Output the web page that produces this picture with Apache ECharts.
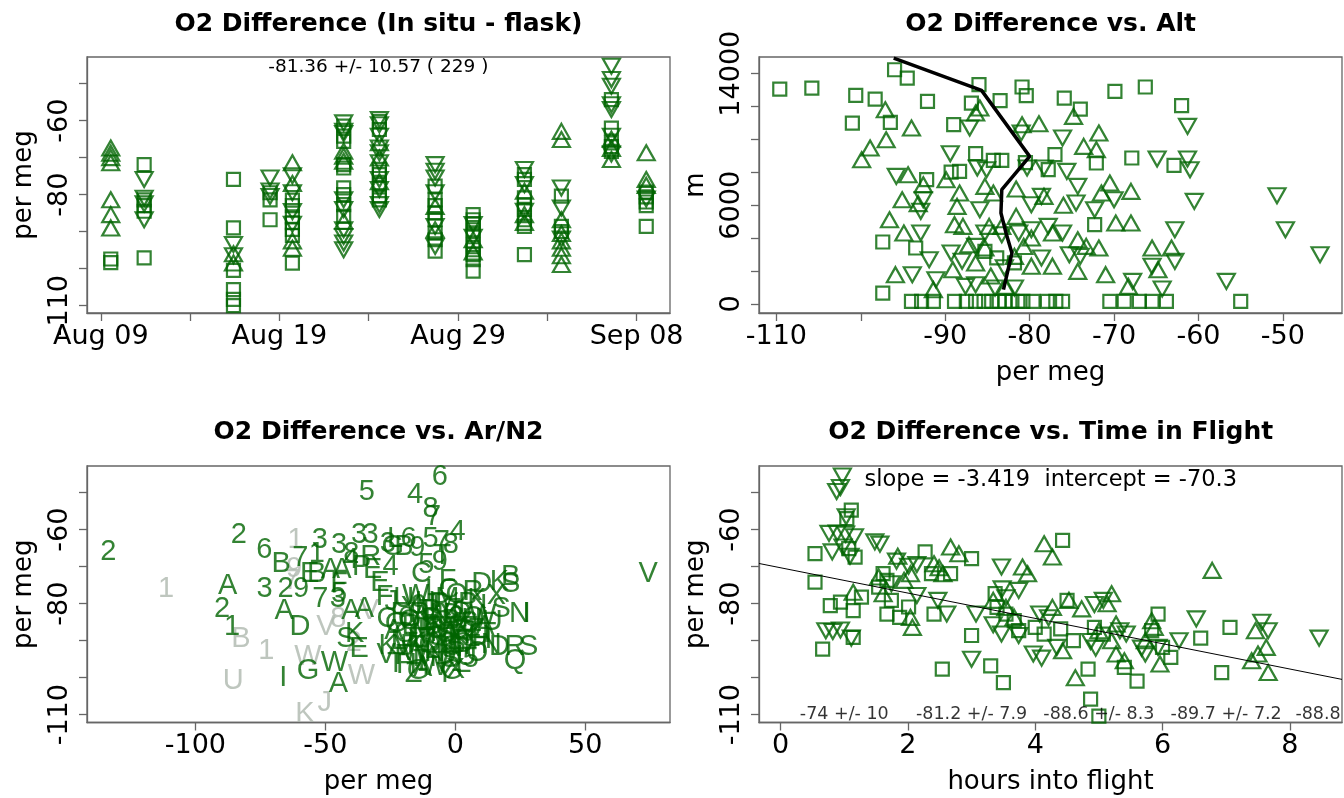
<!DOCTYPE html>
<html>
<head>
<meta charset="utf-8">
<title>O2 Difference</title>
<script src="https://cdn.jsdelivr.net/npm/echarts@6/dist/echarts.min.js"></script>
<style>
html,body{margin:0;padding:0;background:#fff;}
#main{width:1344px;height:798px;}
</style>
</head>
<body>
<div id="main"></div>
<script>
var green = '#006400', gray = '#aeb8ae', FONT = 'DejaVu Sans';

// panel 1: flights (days after Aug 09), values per flight by marker type
var p1Days = [0.56, 2.43, 7.43, 9.48, 10.73, 13.6, 15.6, 18.72, 20.85, 23.72, 25.79, 28.59, 30.54];
var p1Sq = [
  [-97.4, -98.4],
  [-71.9, -81.4, -83, -84.5, -97.1],
  [-75.9, -89, -100.5, -105.7, -108.3, -110],
  [-79.5, -81.4, -86.8],
  [-81.5, -83, -86, -87.6, -89.4, -91, -98.5],
  [-61.5, -64.2, -65.6, -71.9, -72.8, -78.2, -80, -82.7, -85.9],
  [-60.2, -62.4, -73.2, -74.6, -77.3, -80.4, -81.4],
  [-77.7, -81.4, -83, -85, -86.8, -90.4, -92.2, -95.3],
  [-85.4, -86.8, -88, -89.5, -90.8, -93.5, -94.9, -96.2, -97.6, -100.7],
  [-74.6, -75.9, -80.9, -82.7, -84, -86.8, -88.6, -96.2],
  [-80.4, -88.6, -90],
  [-54.3, -62, -66, -67, -68.3],
  [-79.3, -80.6, -82, -83, -88.6]
];
var p1Up = [
  [-67.4, -68.8, -70, -71.4, -81.4, -85.4, -89],
  [],
  [-96, -98.5],
  [],
  [-71.4, -77, -92.5, -94.5],
  [-68.3, -69.6, -71, -87.2],
  [-66, -70.1, -76.5],
  [-83.2, -89.5],
  [-92.2, -95.5],
  [-79.1, -85.4, -87.5],
  [-62.9, -65.1, -86.8, -90.5, -92.5, -94.5, -96.5, -98.9],
  [-65, -67.5, -70.5],
  [-68.7, -75.9, -77.5]
];
var p1Dn = [
  [],
  [-75.9, -81, -82.5, -86.8],
  [-93.5, -96.5],
  [-75.5, -79, -80.5],
  [-74.9, -79.5, -84.6, -88],
  [-60.6, -62.9, -63.5, -81.4, -84, -89.5, -91.3, -93.1, -94.9],
  [-59.7, -61.1, -64.2, -67.4, -68.7, -71.4, -75.9, -78.6, -82.7, -84],
  [-71.9, -73.7, -75.5, -79.5, -88.6, -94],
  [-88.1, -91.5],
  [-73.2, -77.3, -84.5],
  [-78.2, -83.6, -92],
  [-45.3, -48.9, -50.7, -55.7, -57, -64.2, -69],
  [-81.2]
];
var p1Note = '-81.36 +/- 10.57 ( 229 )';
var p1DayLabels = {0: 'Aug 09', 10: 'Aug 19', 20: 'Aug 29', 30: 'Sep 08'};

// panel 2: [per meg, altitude m]
var p2Sq = [[-96,14241],[-94.5,13736],[-109.6,13068],[-105.8,13129],[-100.6,12683],[-98.3,12460],[-101,11001],[-96.5,11042],
  [-92.1,12318],[-89,10900],[-86.9,12217],[-86,13331],[-83.5,12359],[-80.9,13190],[-80.4,12663],[-75.9,12521],[-74,11852],
  [-69.9,12926],[-66.3,13190],[-62,12055],[-67.9,8874],[-72.1,8570],[-62.9,8428],[-86.4,9137],[-84.3,8732],[-83.3,8732],
  [-77,9077],[-77.8,8165],[-88.3,8063],[-89.3,8020],[-92.2,7556],[-97.4,3768],[-93.5,3403],[-72.3,4822],[-85.3,3200],
  [-97.4,667],[-55,160],[-81.8,2500],[-83.9,2800],[-80.5,8600],
  [-94,160],[-92.8,160],[-91.4,160],[-88.9,160],[-87.5,160],[-86.4,160],[-85.4,160],[-84.5,160],[-83.6,160],[-82.9,160],
  [-82.1,160],[-81.4,160],[-80.8,160],[-79.6,160],[-77.9,160],[-76.9,160],[-76.1,160],[-70.5,160],[-68.8,160],[-67,160],
  [-65.5,160],[-63.8,160]];
var p2Up = [[-97.1,11812],[-94,10697],[-97,9987],[-98.9,9480],[-99.9,8772],[-85.9,11913],[-86.4,11609],[-80.9,10900],
  [-78.9,10961],[-74.8,11406],[-71.8,10393],[-73.6,9582],[-72.1,9380],[-94.4,7860],[-92.6,7252],[-89.9,7556],[-88.3,6745],
  [-85.3,7150],[-84.3,6745],[-81.6,6988],[-78.3,6542],[-70.5,7353],[-68,6847],[-71.5,6745],[-95.1,6340],[-96.6,5124],
  [-94.9,4314],[-88.6,5936],[-88.9,4822],[-87.9,4720],[-84.8,4720],[-83.3,4720],[-81.6,5327],[-79.8,4011],[-77.3,4314],
  [-74.3,3909],[-73.3,3504],[-71.8,3403],[-69.8,4923],[-68,4923],[-65.5,3403],[-63.2,3403],[-95.9,1783],[-89.1,2087],
  [-86.4,2492],[-85.3,3403],[-81.8,2897],[-79.8,2300],[-77.3,2300],[-74.3,1985],[-71,1783],[-64.8,2087],[-68.3,1073],
  [-82.8,1073],[-91.4,871],[-93.2,6100],[-87.2,3600],[-84.6,1700],[-76,6000],[-80.7,3500]];
var p2Dn = [[-87.1,10697],[-81,10393],[-76.1,10090],[-61.3,10799],[-61.3,8813],[-61,8165],[-64.9,8813],[-89.4,9137],
  [-86.2,8266],[-85.1,8165],[-80.3,8266],[-78.3,8266],[-75.6,8063],[-95.8,7759],[-92.9,5633],[-92.6,6340],[-85.9,5733],
  [-79.8,6036],[-78.6,6542],[-74.3,7150],[-74.5,6137],[-70,6340],[-72.3,5733],[-60.5,6238],[-50.7,6583],[-49.7,4517],
  [-45.6,2998],[-62.8,4517],[-92.9,4314],[-86.4,3504],[-91.9,2694],[-89.3,3099],[-85.3,4314],[-83.3,4213],[-81.3,4314],
  [-79.8,4517],[-77.8,4720],[-76.1,4314],[-75.3,2998],[-78.6,2795],[-74,2897],[-62.8,2593],[-65.5,2290],[-56.7,1377],
  [-64.3,910],[-67.8,1377],[-93.9,1783],[-91.1,1479],[-87.6,1073],[-86.4,1175],[-84.1,973],[-81.8,973],[-88,2600],[-83,2200]];
var p2ProfVal = [-83.1, -82.1, -82.8, -83.4, -83.3, -80, -85.7, -96.1];
var p2ProfAlt = [871, 3099, 4314, 5530, 6948, 8975, 12986, 14950];

// panel 3: [flight code, Ar/N2 per meg, O2 per meg]
var p3Green = [['2',-133.5,-66],['2',-83.3,-61.5],['6',-73.5,-65.6],['B',-67,-69.2],['7',-59.6,-67.6],['1',-53.3,-66.5],
  ['3',-52.1,-62.7],['3',-44.7,-64.2],['8',-40,-66.5],['3',-37,-61.5],['3',-32.6,-61.5],['5',-34,-49.7],['6',-6,-45.7],
  ['4',-15.5,-50.6],['8',-9.5,-54.3],['7',-8.6,-56.5],['4',0.9,-60.6],['8',-1.7,-64.2],['7',-5.2,-63.3],['5',-9.5,-62.4],
  ['6',-18,-62.4],['L',-23.2,-62.4],['G',-24.1,-64.6],['B',-19.8,-64.6],['9',-14.6,-65],['9',-6,-68.7],['5',-11.2,-69.6],
  ['A',-48,-71],['A',-43.6,-71],['4',-40.2,-68.3],['R',-32.5,-67.4],['4',-24.9,-70.1],['E',-31.8,-71],['E',-56,-71.9],
  ['B',-53.3,-71.9],['A',-87.6,-75.1],['3',-73.4,-76],['2',-65.3,-76],['9',-59.3,-76],['F',-44.7,-74.6],['5',-44.7,-77.3],
  ['7',-51.9,-78.7],['3',-45.2,-78.7],['A',-65.8,-81.9],['2',-89.7,-81.4],['1',-85.9,-86.4],['D',-59.8,-86.4],
  ['A',-40.2,-81.9],['A',-35,-81.4],['S',-42.1,-89.5],['K',-38.7,-88.2],['E',-37,-92.2],['I',-66.2,-100],['G',-56.7,-98.1],
  ['A',-45,-101.8],['W',-46.5,-96],['D',10.2,-74.6],['K',17,-74.2],['S',21.3,-74.6],['B',21.3,-72.8],['N',24.7,-82.8],
  ['I',27.5,-82.8],['S',28.2,-91.8],['R',23,-91.8],['D',17,-91.8],['Q',23,-95.4],['G',-1.4,-98.1],['G',-14.3,-98.1],
  ['T',-22.9,-96.3],['V',74.2,-71.9],['T',-5,-67],['3',-26,-64],['P',-36,-70],['E',-29,-74.5],['C',-13,-72],['F',-3,-74],
  ['J',-24.5,-79.5],['U',-19.8,-78.6],['W',-15.2,-77.9],['H',-11.6,-79.8],['T',-7.3,-80.4],['M',-3.1,-78.7],['O',0.6,-77.6],
  ['P',4.8,-80.2],['K',8.3,-78.9],['L',12.6,-80.6],['X',15.8,-77.8],['C',-26.3,-84.2],['F',-21.5,-82.7],['Q',-17.4,-84.6],
  ['R',-13.8,-82.9],['E',-9.6,-84.3],['N',-5.9,-83.1],['B',-1.7,-84.8],['D',2.4,-82.6],['H',6.3,-84.4],['W',10.5,-83.3],
  ['U',14.2,-84.9],['A',-23.6,-87.4],['G',-19.3,-88.3],['I',-15.7,-86.8],['M',-11.9,-88.5],['O',-7.6,-87.2],['S',-3.5,-88.1],
  ['V',0.3,-86.7],['Y',4.6,-88.4],['Z',8.1,-87.1],['T',12.4,-88.2],['K',-25.8,-91.3],['L',-21.7,-90.2],['P',-17.6,-91.5],
  ['J',-13.5,-89.8],['Q',-9.8,-91.2],['X',-5.7,-90.4],['C',-1.6,-91.6],['E',2.2,-90.1],['F',6.5,-91.4],['H',10.2,-89.9],
  ['R',-19.5,-94.2],['W',-15.4,-93.1],['M',-11.7,-94.6],['N',-7.8,-93.3],['D',-3.6,-94.1],['P',0.4,-93.2],['U',4.3,-94.5],
  ['O',8.4,-93.4],['G',-22.8,-85.6],['B',-8.7,-85.9],['S',5.2,-85.3],['Y',-17.2,-81.2],['Z',-0.8,-81.7],['A',11.4,-86.2],
  ['E',-14.6,-89.6],['K',1.3,-88.9],['T',-5.2,-96.1],['H',-18.8,-96.6],['L',3.1,-96.4],['F',-27.2,-78.1],['I',-10.2,-76.6],
  ['C',-2.5,-76.3],['R',6.8,-76.9],['S',17.6,-81.3],['V',-26.6,-93.8],['A',-12.6,-97.3],['N',13.8,-91.2],
  ['A',-13,-83.5],['B',-9,-82],['C',-5,-85],['D',-1,-83],['E',3,-85.5],['F',-11,-87],['G',-7,-89],['H',-3,-86.5],
  ['I',1,-90],['J',5,-88],['K',-15,-91],['L',-9,-92.5],['M',-5,-88],['N',-1,-92],['O',3,-91],['P',-17,-86],['Q',7,-84],
  ['R',-6,-80],['S',-2,-95],['T',-13,-95.5],['U',9,-89],['V',-20,-91.8],['W',-8,-97],['X',0,-98],['Y',-4,-99],
  ['Z',-16,-99],['1',-11,-85],['2',-3,-91],['3',2,-87],['4',-7,-83],['5',6,-95],['6',-19,-84],['7',-10,-89.5],
  ['8',0.5,-84],['9',-14,-80.5]];
var p3Gray = [['1',-111.3,-76],['1',-61.5,-62.9],['B',-82.5,-89.5],['1',-72.7,-92.7],['V',-49.8,-86.4],['8',-45,-84.2],
  ['W',-56.7,-94.5],['W',-36.1,-99.5],['U',-85.4,-100.9],['K',-57.9,-109.9],['J',-50.2,-106.7],['9',-62,-70.5],
  ['V',-33,-82],['2',-39,-90.5],['7',-63,-74]];

// panel 4: [hours into flight, per meg]
var p4Sq = [[.54,-66.5],[.54,-74.2],[.66,-92.3],[1.11,-54.7],[1.04,-57],[1.07,-65.1],[1.17,-67.4],[.78,-80.5],[.94,-79.6],
  [1.14,-81.9],[1.14,-89.1],[1.61,-71.9],[1.67,-73.7],[1.54,-75.5],[1.67,-82.8],[1.74,-79.1],[1.87,-83.7],[2.27,-66],
  [2.37,-71.9],[2.41,-82.8],[2.67,-71.9],[3.0,-67.8],[3.0,-88.6],[2.54,-97.7],[3.3,-96.8],[3.5,-101.3],[3.37,-77.3],
  [3.4,-81],[3.54,-82.8],[3.67,-84.6],[3.74,-87.3],[4.43,-62.9],[4.5,-79.1],[4.4,-86.8],[4.6,-90],[4.83,-97.7],
  [4.87,-105.8],[5.0,-110.4],[4.93,-86.4],[5.07,-88.2],[5.6,-100.9],[5.4,-97.2],[5.93,-82.8],[5.83,-87.3],[6.13,-94.5],
  [6.6,-89.3],[7.06,-86.4],[6.93,-98.6],[6.0,-91.8],[1.27,-78.2],[2.01,-80.9],[4.14,-88.2],[4.0,-86.4]];
var p4Up = [[1.84,-67.2],[2.67,-64.7],[2.8,-66.5],[2.41,-69.2],[2.49,-70.3],[2.55,-71.9],[2.04,-71.9],[1.94,-73.7],
  [3.8,-70.1],[3.88,-71.9],[4.14,-63.8],[4.27,-67.4],[6.78,-71],[4.53,-79.1],[4.73,-81.4],[5.2,-77.3],[5.13,-80],
  [5.27,-85.5],[5.83,-84.6],[5.87,-86.4],[4.43,-92.7],[4.63,-100],[5.4,-95.4],[5.27,-93.6],[5.96,-96.3],[7.46,-87.3],
  [7.63,-91.8],[7.4,-95.4],[7.66,-98.6],[7.5,-93.6],[2.07,-86.4],[2.04,-83.7],[1.54,-72.8],[1.14,-76.9],[1.61,-77.3],
  [3.54,-81],[3.67,-83.7],[3.34,-79.1],[4.27,-81],[5.0,-87.3],[5.2,-90],[5.73,-90]];
var p4Dn = [[.97,-45.5],[.88,-49.7],[.94,-48.6],[1.03,-56.5],[.76,-61],[.89,-60.9],[1.02,-61.2],[1.16,-61.9],[.98,-64.7],
  [1.09,-67.2],[.81,-66],[1.48,-63.3],[1.56,-63.9],[1.82,-68.5],[2.14,-69.4],[2.01,-69.9],[3.47,-70.1],[3.48,-76],
  [3.74,-76.4],[3.54,-78.4],[2.47,-79.1],[2.61,-82.8],[3.0,-95],[3.47,-88.2],[3.74,-88.6],[3.34,-85.7],[.71,-87.3],
  [.82,-87.5],[.94,-87.1],[1.11,-89.3],[3.97,-93.6],[4.1,-94.7],[4.07,-82.8],[4.21,-83.8],[4.87,-90.2],[4.95,-92],
  [5.43,-88.2],[5.67,-92],[5.73,-93.6],[6.26,-90],[6.53,-84.1],[7.56,-85],[7.66,-87.3],[8.46,-89.3],[5.07,-79.1],
  [4.93,-80.2],[4.34,-91.8],[5.33,-87.3],[5.93,-91.8],[3.07,-82.8],[2.14,-77.8],[1.74,-74.6]];
var p4Slope = -3.419, p4Intercept = -70.3;
var p4BinHours = [1, 3, 5, 7];
var p4BinNotes = ['-74 +/- 10', '-81.2 +/- 7.9', '-88.6 +/- 8.3', '-89.7 +/- 7.2'];
var p4LastNote = '-88.8';

var titles = ['O2 Difference (In situ - flask)', 'O2 Difference vs. Alt', 'O2 Difference vs. Ar/N2', 'O2 Difference vs. Time in Flight'];

function col(days, vals) {
  var out = [];
  for (var i = 0; i < days.length; i++)
    for (var j = 0; j < vals[i].length; j++) out.push([days[i], vals[i][j]]);
  return out;
}
function range(a, b, s) { var r = []; for (var v = a; v <= b + 1e-9; v += s) r.push(v); return r; }

function axis(gi, min, max, ticks, labels, name, gap, isY, fmt) {
  return {
    type: 'value', gridIndex: gi, min: min, max: max,
    name: name || '', nameLocation: 'middle', nameGap: gap,
    nameTextStyle: {fontFamily: FONT, fontSize: 26, color: '#000'},
    axisLine: {show: true, onZero: false, lineStyle: {color: '#666', width: 1.3}},
    axisTick: {show: true, length: 8, customValues: ticks, lineStyle: {color: '#666', width: 1.3}},
    axisLabel: {customValues: labels, rotate: isY ? 90 : 0, margin: isY ? 14 : 10, color: '#000',
      fontFamily: FONT, fontSize: 27, formatter: fmt || function (v) { return String(v); }},
    splitLine: {show: false}
  };
}

function marks(gi, data, shape) {
  return {
    type: 'scatter', xAxisIndex: gi, yAxisIndex: gi, data: data, silent: true,
    symbol: shape === 'sq' ? 'rect' : 'triangle',
    symbolSize: shape === 'sq' ? 13 : [17, 15],
    symbolRotate: shape === 'dn' ? 180 : 0,
    itemStyle: {color: 'rgba(0,0,0,0)', borderColor: green, borderWidth: 2.2}
  };
}

function letters(data, color) {
  return {
    type: 'scatter', xAxisIndex: 2, yAxisIndex: 2, silent: true, symbolSize: 1,
    data: data.map(function (d) { return [d[1], d[2], d[0]]; }),
    itemStyle: {color: 'rgba(0,0,0,0)'},
    label: {show: true, position: 'inside', formatter: function (p) { return p.value[2]; },
      color: color, fontFamily: 'Liberation Sans', fontSize: 29}
  };
}

var yTicks = range(-110, -50, 10);
var xLeft4 = -0.34, xRight4 = 8.82;

var series = [
  marks(0, col(p1Days, p1Sq), 'sq'), marks(0, col(p1Days, p1Up), 'up'), marks(0, col(p1Days, p1Dn), 'dn'),
  marks(1, p2Sq, 'sq'), marks(1, p2Up, 'up'), marks(1, p2Dn, 'dn'),
  {type: 'line', xAxisIndex: 1, yAxisIndex: 1, silent: true, symbol: 'none', z: 5,
    data: p2ProfVal.map(function (v, i) { return [v, p2ProfAlt[i]]; }),
    lineStyle: {color: '#000', width: 3.5}},
  letters(p3Gray, gray), letters(p3Green, green),
  marks(3, p4Sq, 'sq'), marks(3, p4Up, 'up'), marks(3, p4Dn, 'dn'),
  {type: 'line', xAxisIndex: 3, yAxisIndex: 3, silent: true, symbol: 'none', z: 5,
    data: [[xLeft4, p4Intercept + p4Slope * xLeft4], [xRight4, p4Intercept + p4Slope * xRight4]],
    lineStyle: {color: '#000', width: 1}},
  {type: 'scatter', xAxisIndex: 3, yAxisIndex: 3, silent: true, symbolSize: 1, z: 6,
    itemStyle: {color: 'rgba(0,0,0,0)'},
    data: p4BinHours.map(function (h, i) { return [h, -110, p4BinNotes[i]]; }),
    label: {show: true, position: 'inside', formatter: function (p) { return p.value[2]; },
      color: '#000', fontFamily: FONT, fontSize: 17.5}},
  {type: 'scatter', xAxisIndex: 3, yAxisIndex: 3, silent: true, symbolSize: 1, z: 6,
    itemStyle: {color: 'rgba(0,0,0,0)'},
    data: [[8.08, -110, p4LastNote]],
    label: {show: true, position: 'right', distance: 0, formatter: function (p) { return p.value[2]; },
      color: '#000', fontFamily: FONT, fontSize: 17.5}}
];

function txt(x, y, s, font) {
  return {type: 'text', x: x, y: y, silent: true,
    style: {text: s, font: font, fill: '#000', align: 'center', verticalAlign: 'middle'}};
}

var option = {
  backgroundColor: '#fff',
  animation: false,
  grid: [
    {left: 87, top: 57, width: 583, height: 256, show: true, borderColor: '#666', borderWidth: 1.3},
    {left: 759, top: 57, width: 583, height: 256, show: true, borderColor: '#666', borderWidth: 1.3},
    {left: 87, top: 466, width: 583, height: 256.5, show: true, borderColor: '#666', borderWidth: 1.3},
    {left: 759, top: 466, width: 583, height: 256.5, show: true, borderColor: '#666', borderWidth: 1.3}
  ],
  xAxis: [
    axis(0, -0.77, 31.87, range(0, 30, 5), [0, 10, 20, 30], '', 0, false, function (v) { return p1DayLabels[v]; }),
    axis(1, -112.06, -43.0, range(-110, -50, 10), [-110, -90, -80, -70, -60, -50], 'per meg', 47, false),
    axis(2, -141.7, 82.6, [-100, -50, 0, 50], [-100, -50, 0, 50], 'per meg', 47, false),
    axis(3, xLeft4, xRight4, [0, 2, 4, 6, 8], [0, 2, 4, 6, 8], 'hours into flight', 47, false)
  ],
  yAxis: [
    axis(0, -112.0, -42.8, yTicks, [-110, -80, -60], 'per meg', 50, true),
    axis(1, -547, 15015, range(0, 14000, 2000), [0, 6000, 14000], 'm', 50, true),
    axis(2, -112.1, -42.8, yTicks, [-110, -80, -60], 'per meg', 50, true),
    axis(3, -112.1, -42.8, yTicks, [-110, -80, -60], 'per meg', 50, true)
  ],
  graphic: [
    txt(378.5, 24, titles[0], 'bold 25px "DejaVu Sans"'),
    txt(1050.7, 24, titles[1], 'bold 25px "DejaVu Sans"'),
    txt(378.5, 432, titles[2], 'bold 25px "DejaVu Sans"'),
    txt(1050.7, 432, titles[3], 'bold 25px "DejaVu Sans"'),
    txt(378.3, 67, p1Note, '18.5px "DejaVu Sans"'),
    txt(1050.8, 480, 'slope = ' + p4Slope + '  intercept = ' + p4Intercept, '22.5px "DejaVu Sans"')
  ],
  series: series
};

var chart = echarts.init(document.getElementById('main'));
chart.setOption(option);
</script>
</body>
</html>
